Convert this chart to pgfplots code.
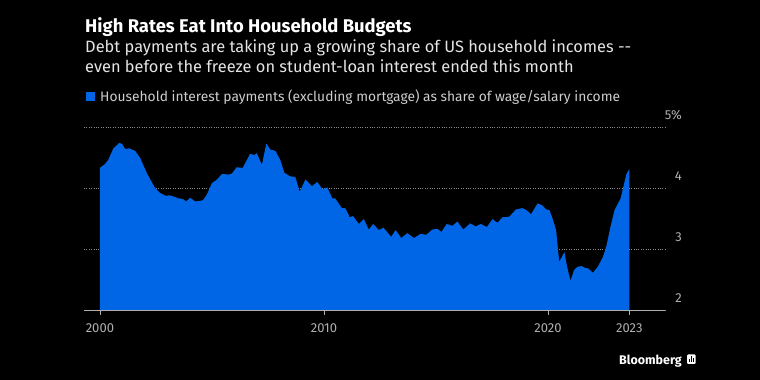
\documentclass[border=0pt]{standalone}
\usepackage{pgfplots}
\pgfplotsset{compat=1.18}
\usepackage{fontspec}
\setmainfont{Fira Sans}
\definecolor{bbblue}{RGB}{0,102,230}
\definecolor{subgray}{RGB}{228,228,228}
\definecolor{txtgray}{RGB}{205,205,205}
\definecolor{tickgray}{RGB}{175,175,175}
\definecolor{gridgray}{RGB}{140,140,140}
\begin{document}
\begin{tikzpicture}
\fill[black] (0pt,0pt) rectangle (760pt,380pt);
\node[anchor=base west, inner sep=0pt, text=white, font=\fontsize{18.4}{20}\selectfont\bfseries] at (85pt,347.3pt) {High Rates Eat Into Household Budgets};
\node[anchor=base west, inner sep=0pt, text=subgray, font=\fontsize{16.4}{20}\selectfont] at (85pt,327.3pt) {Debt payments are taking up a growing share of US household incomes {-}{-}};
\node[anchor=base west, inner sep=0pt, text=subgray, font=\fontsize{16.4}{20}\selectfont] at (85pt,307.3pt) {even before the freeze on student-loan interest ended this month};
\fill[bbblue] (86pt,279pt) rectangle (95pt,287.7pt);
\node[anchor=base west, inner sep=0pt, text=txtgray, font=\fontsize{13.8}{16}\selectfont] at (100pt,278.3pt) {Household interest payments (excluding mortgage) as share of wage/salary income};
\node[anchor=base east, inner sep=0pt, text=white, font=\fontsize{12.5}{16}\selectfont\bfseries] at (682pt,16pt) {Bloomberg};
\fill[white, rounded corners=1pt] (687pt,16pt) rectangle (695.5pt,25.5pt);
\fill[black] (689.3pt,18pt) rectangle (690.3pt,21pt);
\fill[black] (690.9pt,18pt) rectangle (691.9pt,23.5pt);
\fill[black] (692.5pt,18pt) rectangle (693.5pt,22pt);
\begin{axis}[
  at={(84pt,70pt)}, anchor=south west, scale only axis,
  width=581pt, height=183pt,
  xmin=1999.29, xmax=2025.22, ymin=2, ymax=5,
  axis x line*=bottom, axis y line*=right,
  x axis line style={draw=tickgray, line width=0.8pt},
  y axis line style={draw=none},
  xtick={2000,2010,2020,2023.63},
  xticklabels={2000,2010,2020,2023},
  ytick={2,3,4,5},
  yticklabels={2,3,4,5\%},
  tick align=outside,
  major tick length=5pt,
  xtick style={draw=tickgray, line width=0.8pt},
  ytick style={draw=none},
  ymajorgrids=true,
  grid style={dotted, gridgray, line width=0.8pt},
  xticklabel style={font=\fontsize{13}{16}\selectfont, text=tickgray, inner sep=0pt, yshift=-8pt},
  yticklabel style={font=\fontsize{13}{16}\selectfont, text=tickgray, anchor=base east, inner sep=0pt, xshift=12pt, yshift=7.5pt},
  /pgf/number format/assume math mode=true,
  clip=true,
]
\addplot[fill=bbblue, draw=none] coordinates {
(2000.00,4.33) (2000.22,4.39) (2000.37,4.46) (2000.60,4.65) (2000.87,4.74)
(2001.00,4.72) (2001.12,4.64) (2001.30,4.65) (2001.57,4.61) (2001.80,4.49)
(2002.10,4.24) (2002.46,4.00) (2002.68,3.92) (2002.95,3.87) (2003.10,3.88)
(2003.30,3.86) (2003.50,3.83) (2003.70,3.82) (2003.85,3.78) (2004.03,3.84)
(2004.25,3.78) (2004.47,3.79) (2004.60,3.80) (2004.77,3.89) (2005.00,4.08)
(2005.20,4.13) (2005.45,4.23) (2005.75,4.22) (2005.90,4.24) (2006.10,4.34)
(2006.37,4.33) (2006.56,4.46) (2006.70,4.56) (2006.90,4.54) (2007.00,4.57)
(2007.23,4.38) (2007.43,4.73) (2007.60,4.63) (2007.83,4.61) (2008.05,4.46)
(2008.23,4.25) (2008.50,4.19) (2008.72,4.18) (2008.92,3.94) (2009.17,4.14)
(2009.47,4.03) (2009.70,4.10) (2009.93,3.98) (2010.15,4.01) (2010.37,3.83)
(2010.50,3.83) (2010.80,3.67) (2010.95,3.67) (2011.15,3.52) (2011.30,3.54)
(2011.56,3.41) (2011.78,3.49) (2012.00,3.32) (2012.20,3.41) (2012.45,3.31)
(2012.65,3.35) (2013.00,3.20) (2013.20,3.31) (2013.45,3.18) (2013.72,3.26)
(2014.02,3.18) (2014.32,3.25) (2014.55,3.23) (2014.84,3.32) (2015.07,3.33)
(2015.24,3.28) (2015.48,3.41) (2015.73,3.38) (2015.95,3.45) (2016.22,3.32)
(2016.52,3.42) (2016.77,3.37) (2017.00,3.41) (2017.27,3.36) (2017.52,3.49)
(2017.74,3.43) (2017.97,3.52) (2018.27,3.53) (2018.57,3.65) (2018.86,3.67)
(2019.06,3.63) (2019.24,3.57) (2019.54,3.75) (2019.76,3.71) (2019.91,3.65)
(2020.06,3.64) (2020.20,3.50) (2020.36,3.31) (2020.43,3.04) (2020.50,2.79)
(2020.73,2.95) (2020.85,2.71) (2021.00,2.48) (2021.17,2.66) (2021.32,2.71)
(2021.50,2.72) (2021.65,2.69) (2021.80,2.68) (2022.00,2.61) (2022.22,2.71)
(2022.45,2.87) (2022.60,3.04) (2022.79,3.37) (2022.97,3.64) (2023.24,3.83)
(2023.38,4.05) (2023.50,4.23) (2023.63,4.31)
} \closedcycle;
\end{axis}
\end{tikzpicture}
\end{document}
